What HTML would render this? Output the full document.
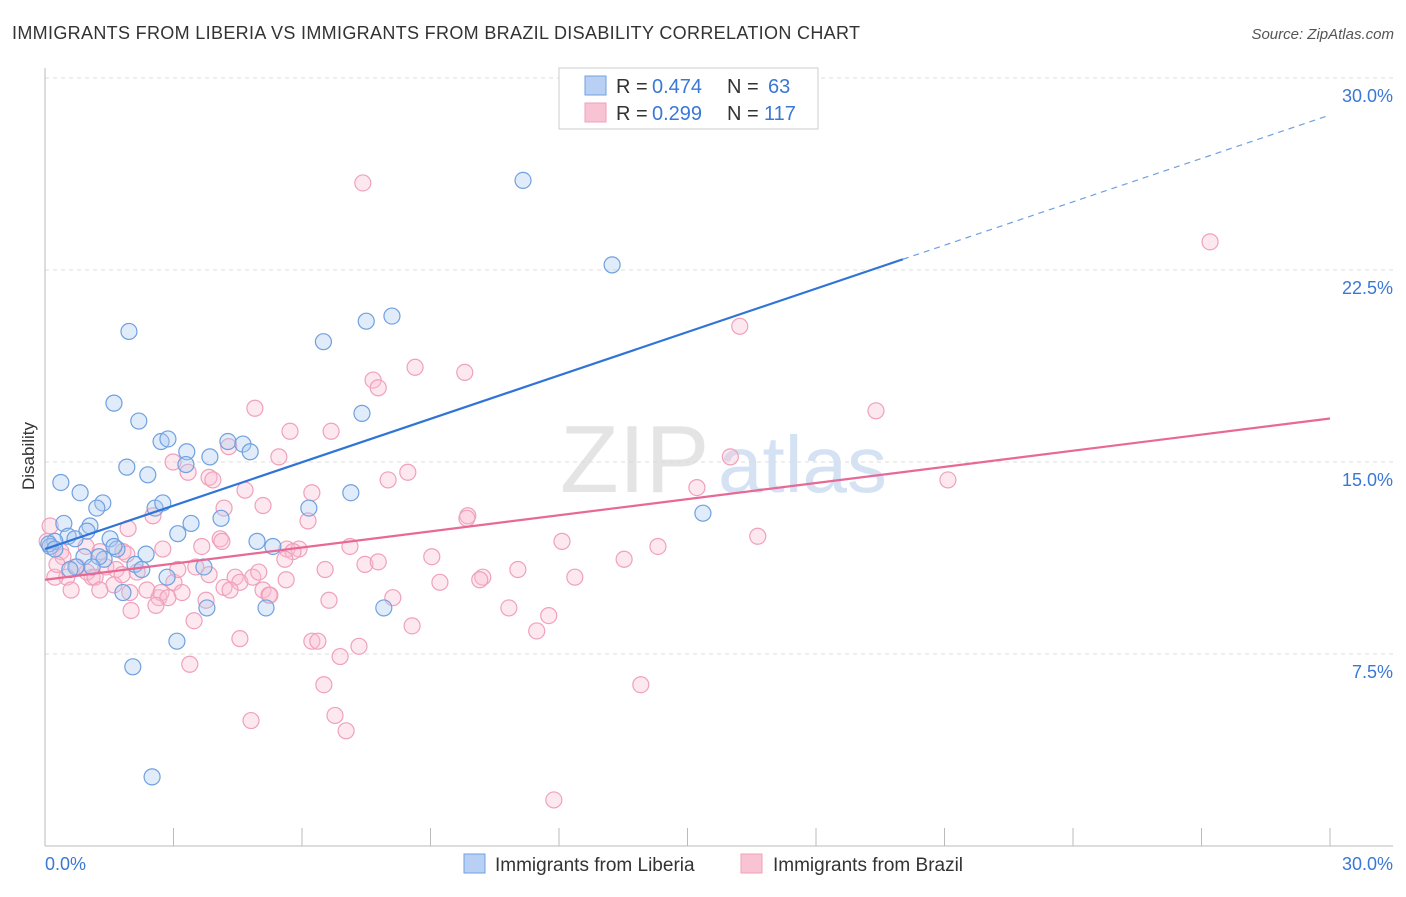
<!DOCTYPE html>
<html><head><meta charset="utf-8"><style>
body{margin:0;background:#fff;font-family:"Liberation Sans",sans-serif}
svg text{font-family:"Liberation Sans",sans-serif}
</style></head><body>
<svg id="c" width="1406" height="892" viewBox="0 0 1406 892">
<text x="12" y="39" font-size="18" fill="#333" textLength="848">IMMIGRANTS FROM LIBERIA VS IMMIGRANTS FROM BRAZIL DISABILITY CORRELATION CHART</text>
<text x="1394" y="39" font-size="15" fill="#555" font-style="italic" text-anchor="end">Source: ZipAtlas.com</text>
<text x="560" y="492" font-size="96" fill="#e4e4e4" font-family="Liberation Serif">ZIP</text>
<text x="718" y="492" font-size="80" fill="#d4e2f4">atlas</text>
<text x="34" y="456" font-size="17" fill="#333" transform="rotate(-90 34 456)" text-anchor="middle">Disability</text>
<g id="grid"></g><g id="marks"></g>
<rect x="559" y="68" width="259" height="61" fill="#fff" stroke="#ccc"/>
<rect x="585" y="76" width="21" height="19" fill="#b8d0f4" stroke="#6fa0e0"/>
<rect x="585" y="103" width="21" height="19" fill="#f8c4d4" stroke="#f0a0bb"/>
<g font-size="20">
<text x="616" y="93" fill="#333">R =</text><text x="652" y="93" fill="#3a78d6">0.474</text>
<text x="727" y="93" fill="#333">N =</text><text x="768" y="93" fill="#3a78d6">63</text>
<text x="616" y="120" fill="#333">R =</text><text x="652" y="120" fill="#3a78d6">0.299</text>
<text x="727" y="120" fill="#333">N =</text><text x="764" y="120" fill="#3a78d6">117</text>
</g>
<rect x="464" y="854" width="21" height="19" fill="#b8d0f4" stroke="#6fa0e0"/>
<text x="495" y="871" font-size="19" fill="#333">Immigrants from Liberia</text>
<rect x="741" y="854" width="21" height="19" fill="#f8c4d4" stroke="#f0a0bb"/>
<text x="773" y="871" font-size="19" fill="#333">Immigrants from Brazil</text>
</svg>
<script>
const yTicks=[7.5,15,22.5,30];
const yTickLabels=["7.5%","15.0%","22.5%","30.0%"];
const xTickLabels=["0.0%","30.0%"];
const liberiaX=[11.16,13.24,1.96,7.5,8.1,6.5,1.61,2.19,7.4,2.71,2.87,4.27,4.62,4.79,3.85,3.31,3.29,1.91,2.4,0.37,0.82,1.35,1.21,2.57,2.75,7.14,6.16,0.44,1.05,0.98,3.41,4.11,3.1,0.54,0.7,0.23,0.12,1.52,4.95,5.32,1.68,2.36,0.91,1.38,1.26,2.1,2.26,2.85,3.71,1.1,0.72,1.82,3.78,5.16,7.91,3.08,2.05,2.5,15.36,0.09,0.23,1.61,0.58];
const liberiaY=[26.0,22.7,20.1,20.5,20.7,19.7,17.3,16.6,16.9,15.8,15.9,15.8,15.7,15.4,15.2,15.4,14.9,14.8,14.5,14.2,13.8,13.4,13.2,13.2,13.4,13.8,13.2,12.6,12.5,12.3,12.6,12.8,12.2,12.1,12.0,11.9,11.7,12.0,11.9,11.7,11.6,11.4,11.3,11.2,11.3,11.0,10.8,10.5,10.9,10.9,10.9,9.9,9.3,9.3,9.3,8.0,7.0,2.7,13.0,11.8,11.6,11.7,10.8];
const brazilX=[7.42,27.2,16.22,8.64,9.8,7.66,7.78,4.9,19.4,5.72,6.68,4.29,5.46,2.99,3.34,8.47,16.0,8.01,21.08,15.22,3.83,3.92,4.67,6.23,4.18,5.09,2.52,9.87,9.85,6.14,1.94,16.64,12.07,14.31,4.09,4.13,3.66,7.12,5.65,5.93,5.79,13.52,9.03,1.82,2.75,1.91,7.47,7.78,11.04,10.22,12.37,0.37,0.42,1.28,1.42,2.15,1.66,1.1,0.98,1.17,0.51,0.23,0.61,1.61,1.98,2.66,2.38,3.01,4.44,4.55,4.85,4.99,5.63,3.83,5.09,5.23,2.71,2.87,3.2,4.18,3.76,2.01,2.59,6.63,8.12,10.83,11.76,11.48,8.57,3.48,4.55,6.23,6.37,6.89,7.33,3.38,6.51,13.91,4.81,6.77,7.03,11.88,1.28,0.12,0.05,0.28,0.75,0.96,1.8,3.1,3.52,4.32,5.6,5.25,6.54,9.22,10.15];
const brazilY=[25.9,23.6,20.3,18.7,18.5,18.2,17.9,17.1,17.0,16.2,16.2,15.6,15.2,15.0,14.6,14.6,15.2,14.3,14.3,14.0,14.4,14.3,13.9,13.8,13.2,13.3,12.9,12.9,12.8,12.7,12.4,12.1,11.9,11.7,12.0,11.9,11.7,11.7,11.6,11.6,11.5,11.2,11.3,11.5,11.6,11.4,11.0,11.1,10.8,10.5,10.5,11.5,11.3,11.5,10.9,10.7,10.8,10.5,10.7,10.5,10.5,10.5,10.0,10.2,9.9,9.7,10.0,10.3,10.5,10.3,10.5,10.7,10.4,10.6,10.0,9.8,9.9,9.7,9.9,10.1,9.6,9.2,9.4,9.6,9.7,9.3,9.0,8.4,8.6,8.8,8.1,8.0,8.0,7.4,7.8,7.1,6.3,6.3,4.9,5.1,4.5,1.8,10.0,12.5,11.9,11.0,10.9,11.7,10.6,10.8,10.9,10.0,11.2,9.8,10.8,10.3,10.4];
const liberiaTrend=[0,11.6,20.03,22.92];
const brazilTrend=[0,10.4,30,16.7];
const ns="http://www.w3.org/2000/svg";
const X=v=>45+v/30*1285, Y=v=>846-v/7.5*192;
const grid=document.getElementById('grid'), marks=document.getElementById('marks');
function mk(tag,a,p){const e=document.createElementNS(ns,tag);for(const k in a)e.setAttribute(k,a[k]);p.appendChild(e);return e;}
yTicks.forEach((t,i)=>{
 const l=mk('line',{x1:45,x2:1393,y1:Y(t),y2:Y(t),stroke:'#ddd','stroke-dasharray':'4,4'},grid);
 
 
 const tx=mk('text',{x:1393,y:Y(t)+24,'font-size':18,fill:'#3a78d6','text-anchor':'end'},grid);
 tx.textContent=yTickLabels[i];
 
 
});
const ax=mk('line',{x1:45,x2:1393,y1:846,y2:846,stroke:'#bbb'},grid);


const ay=mk('line',{x1:45,x2:45,y1:68,y2:846,stroke:'#bbb'},grid);


for(let i=0;i<=10;i++){
 const t=mk('line',{x1:X(i*3),x2:X(i*3),y1:828,y2:846,stroke:'#bbb'},grid);
 
 
}
[[0,'start',45],[30,'end',1393]].forEach((d,i)=>{
 const tx=mk('text',{x:d[2],y:870,'font-size':18,fill:'#3a78d6','text-anchor':d[1]},grid);
 tx.textContent=xTickLabels[i];
 
 
});
function pts(xs,ys,fill,stroke,name){
 xs.forEach((x,i)=>{const c=mk('circle',{cx:X(x),cy:Y(ys[i]),r:8,fill:fill,stroke:stroke,'stroke-width':1.2},marks);
 
 });
}
pts(brazilX,brazilY,'rgba(248,190,210,0.35)','#f0a0bb','brazil-point');
pts(liberiaX,liberiaY,'rgba(170,200,242,0.35)','#6fa0e0','liberia-point');
const bl=mk('line',{x1:X(brazilTrend[0]),y1:Y(brazilTrend[1]),x2:X(brazilTrend[2]),y2:Y(brazilTrend[3]),stroke:'#e86896','stroke-width':2.2},marks);


const sl=(liberiaTrend[3]-liberiaTrend[1])/(liberiaTrend[2]-liberiaTrend[0]);
const ll=mk('line',{x1:X(0),y1:Y(liberiaTrend[1]),x2:X(liberiaTrend[2]),y2:Y(liberiaTrend[3]),stroke:'#2f74d6','stroke-width':2.2},marks);


const ld=mk('line',{x1:X(liberiaTrend[2]),y1:Y(liberiaTrend[3]),x2:X(30),y2:Y(liberiaTrend[1]+sl*30),stroke:'#6fa0e0','stroke-width':1.2,'stroke-dasharray':'6,5'},marks);


</script>
</body></html>
